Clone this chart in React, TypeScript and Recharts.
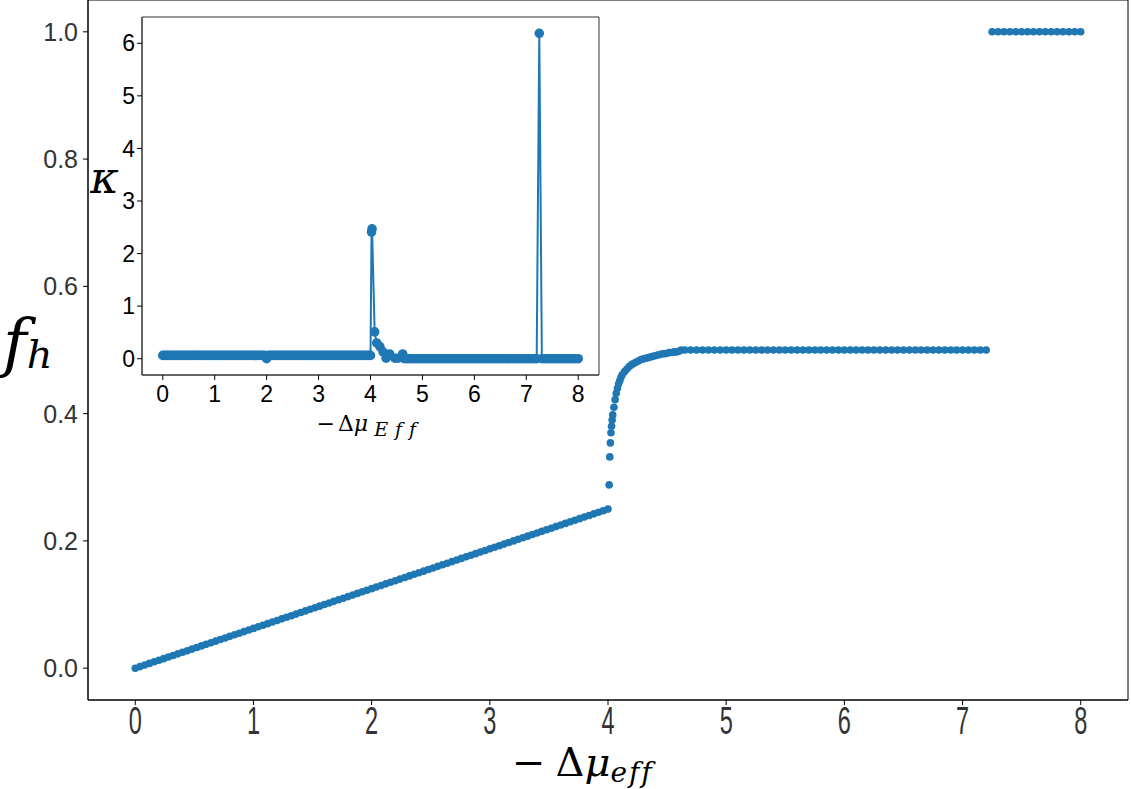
import React from 'react';
import {
  ScatterChart, Scatter, LineChart, Line, XAxis, YAxis, ReferenceArea, Label,
} from 'recharts';

// f_h vs -Δμ_eff
const xLin = [0, 0.04, 0.08, 0.12, 0.16, 0.2, 0.24, 0.28, 0.32, 0.36, 0.4, 0.44, 0.48, 0.52, 0.56, 0.6, 0.64, 0.68, 0.72, 0.76,
  0.8, 0.84, 0.88, 0.92, 0.96, 1, 1.04, 1.08, 1.12, 1.16, 1.2, 1.24, 1.28, 1.32, 1.36, 1.4, 1.44, 1.48, 1.52, 1.56,
  1.6, 1.64, 1.68, 1.72, 1.76, 1.8, 1.84, 1.88, 1.92, 1.96, 2, 2.04, 2.08, 2.12, 2.16, 2.2, 2.24, 2.28, 2.32, 2.36,
  2.4, 2.44, 2.48, 2.52, 2.56, 2.6, 2.64, 2.68, 2.72, 2.76, 2.8, 2.84, 2.88, 2.92, 2.96, 3, 3.04, 3.08, 3.12, 3.16,
  3.2, 3.24, 3.28, 3.32, 3.36, 3.4, 3.44, 3.48, 3.52, 3.56, 3.6, 3.64, 3.68, 3.72, 3.76, 3.8, 3.84, 3.88, 3.92, 3.96, 4];
const fhLin = [0, 0.0025, 0.005, 0.0075, 0.01, 0.0125, 0.015, 0.0175, 0.02, 0.0225, 0.025, 0.0275, 0.03, 0.0325, 0.035,
  0.0375, 0.04, 0.0425, 0.045, 0.0475, 0.05, 0.0525, 0.055, 0.0575, 0.06, 0.0625, 0.065, 0.0675, 0.07, 0.0725,
  0.075, 0.0775, 0.08, 0.0825, 0.085, 0.0875, 0.09, 0.0925, 0.095, 0.0975, 0.1, 0.1025, 0.105, 0.1075, 0.11,
  0.1125, 0.115, 0.1175, 0.12, 0.1225, 0.125, 0.1275, 0.13, 0.1325, 0.135, 0.1375, 0.14, 0.1425, 0.145, 0.1475,
  0.15, 0.1525, 0.155, 0.1575, 0.16, 0.1625, 0.165, 0.1675, 0.17, 0.1725, 0.175, 0.1775, 0.18, 0.1825, 0.185,
  0.1875, 0.19, 0.1925, 0.195, 0.1975, 0.2, 0.2025, 0.205, 0.2075, 0.21, 0.2125, 0.215, 0.2175, 0.22, 0.2225,
  0.225, 0.2275, 0.23, 0.2325, 0.235, 0.2375, 0.24, 0.2425, 0.245, 0.2475, 0.25];

const xRise = [4.01, 4.015, 4.02, 4.025, 4.03, 4.035, 4.04, 4.05, 4.06, 4.07, 4.08, 4.09, 4.1, 4.11, 4.12, 4.14, 4.16,
  4.18, 4.2, 4.22, 4.24, 4.26, 4.28, 4.3, 4.32, 4.34, 4.36, 4.38, 4.4, 4.42, 4.44, 4.46, 4.48, 4.5, 4.52, 4.54, 4.56,
  4.58, 4.6, 4.62];
const fhRise = [0.288, 0.332, 0.354, 0.37, 0.38, 0.39, 0.398, 0.41, 0.422, 0.432, 0.44, 0.447, 0.452, 0.457, 0.461,
  0.466, 0.47, 0.474, 0.477, 0.479, 0.481, 0.483, 0.485, 0.486, 0.487, 0.488, 0.489, 0.49, 0.491, 0.492, 0.493,
  0.494, 0.494, 0.495, 0.496, 0.496, 0.497, 0.497, 0.498, 0.5];

const xPlateau = [4.65, 4.7, 4.75, 4.8, 4.85, 4.9, 4.95, 5, 5.05, 5.1, 5.15, 5.2, 5.25, 5.3, 5.35, 5.4, 5.45, 5.5, 5.55,
  5.6, 5.65, 5.7, 5.75, 5.8, 5.85, 5.9, 5.95, 6, 6.05, 6.1, 6.15, 6.2, 6.25, 6.3, 6.35, 6.4, 6.45, 6.5, 6.55, 6.6,
  6.65, 6.7, 6.75, 6.8, 6.85, 6.9, 6.95, 7, 7.05, 7.1, 7.15, 7.2];
const fhPlateau = [0.5, 0.5, 0.5, 0.5, 0.5, 0.5, 0.5, 0.5, 0.5, 0.5, 0.5, 0.5, 0.5, 0.5, 0.5, 0.5, 0.5, 0.5, 0.5, 0.5,
  0.5, 0.5, 0.5, 0.5, 0.5, 0.5, 0.5, 0.5, 0.5, 0.5, 0.5, 0.5, 0.5, 0.5, 0.5, 0.5, 0.5, 0.5, 0.5, 0.5, 0.5, 0.5,
  0.5, 0.5, 0.5, 0.5, 0.5, 0.5, 0.5, 0.5, 0.5, 0.5];

const xTop = [7.25, 7.3, 7.35, 7.4, 7.45, 7.5, 7.55, 7.6, 7.65, 7.7, 7.75, 7.8, 7.85, 7.9, 7.95, 8];
const fhTop = [1, 1, 1, 1, 1, 1, 1, 1, 1, 1, 1, 1, 1, 1, 1, 1];

// inset: κ vs -Δμ_Eff
const kLin = [0.0625, 0.0625, 0.0625, 0.0625, 0.0625, 0.0625, 0.0625, 0.0625, 0.0625, 0.0625, 0.0625, 0.0625, 0.0625,
  0.0625, 0.0625, 0.0625, 0.0625, 0.0625, 0.0625, 0.0625, 0.0625, 0.0625, 0.0625, 0.0625, 0.0625, 0.0625, 0.0625,
  0.0625, 0.0625, 0.0625, 0.0625, 0.0625, 0.0625, 0.0625, 0.0625, 0.0625, 0.0625, 0.0625, 0.0625, 0.0625, 0.0625,
  0.0625, 0.0625, 0.0625, 0.0625, 0.0625, 0.0625, 0.0625, 0.0625, 0.0625, 0.0, 0.0625, 0.0625, 0.0625, 0.0625,
  0.0625, 0.0625, 0.0625, 0.0625, 0.0625, 0.0625, 0.0625, 0.0625, 0.0625, 0.0625, 0.0625, 0.0625, 0.0625, 0.0625,
  0.0625, 0.0625, 0.0625, 0.0625, 0.0625, 0.0625, 0.0625, 0.0625, 0.0625, 0.0625, 0.0625, 0.0625, 0.0625, 0.0625,
  0.0625, 0.0625, 0.0625, 0.0625, 0.0625, 0.0625, 0.0625, 0.0625, 0.0625, 0.0625, 0.0625, 0.0625, 0.0625, 0.0625,
  0.0625, 0.0625, 0.0625, 0.0625];
const xSpike = [4.02, 4.03, 4.08, 4.12, 4.18, 4.24, 4.3, 4.37, 4.47, 4.53, 4.62];
const kSpike = [2.41, 2.47, 0.51, 0.3, 0.23, 0.13, 0.01, 0.09, 0.01, 0.01, 0.09];
const kPlateau = [0, 0, 0, 0, 0, 0, 0, 0, 0, 0, 0, 0, 0, 0, 0, 0, 0, 0, 0, 0, 0, 0, 0, 0, 0, 0, 0, 0, 0, 0, 0, 0, 0,
  0, 0, 0, 0, 0, 0, 0, 0, 0, 0, 0, 0, 0, 0, 0, 0, 0, 0, 0];
const kTop = [6.19, 0, 0, 0, 0, 0, 0, 0, 0, 0, 0, 0, 0, 0, 0, 0];

const mainTicksX = [0, 1, 2, 3, 4, 5, 6, 7, 8];
const mainTicksY = [0, 0.2, 0.4, 0.6, 0.8, 1.0];
const insetTicksY = [0, 1, 2, 3, 4, 5, 6];

const zip = (xs: number[], ys: number[]) => xs.map((x, i) => ({ x, y: ys[i] }));

const mainData = [
  ...zip(xLin, fhLin), ...zip(xRise, fhRise), ...zip(xPlateau, fhPlateau), ...zip(xTop, fhTop),
];
const insetData = [
  ...zip(xLin, kLin), ...zip(xSpike, kSpike), ...zip(xPlateau, kPlateau), ...zip(xTop, kTop),
];

const BLUE = '#1f77b4';
const SANS = 'Liberation Sans';
const SERIF = 'DejaVu Serif';

const Dot = (p: any) => <circle cx={p.cx} cy={p.cy} r={3.8} fill={BLUE} />;

// the x tick labels in the figure are squeezed horizontally
const MainXTick = (p: any) => (
  <g transform={`translate(${p.x},${p.y})`}>
    <text transform="scale(0.62,1)" textAnchor="middle" dy="0.71em" fontSize={38} fontFamily={SANS} fill="#333">
      {p.payload.value}
    </text>
  </g>
);

const MainXLabel = (p: any) => {
  const vb = p.viewBox;
  return (
    <text x={vb.x + vb.width / 2 - 96} y={vb.y + 76} fontFamily={SERIF} fontSize={40} fill="#000">
      <tspan>−</tspan>
      <tspan dx={10}>Δ</tspan>
      <tspan fontStyle="italic">μ</tspan>
      <tspan fontStyle="italic" fontSize={28} dy={6} letterSpacing={2}>eff</tspan>
    </text>
  );
};

const MainYLabel = (p: any) => {
  const vb = p.viewBox;
  return (
    <text x={vb.x + 3} y={vb.y + vb.height / 2 + 15} fontFamily={SERIF} fill="#000" fontStyle="italic">
      <tspan fontSize={64}>f</tspan>
      <tspan fontSize={40} dy={3}>h</tspan>
    </text>
  );
};

const InsetXLabel = (p: any) => {
  const vb = p.viewBox;
  return (
    <text x={vb.x + vb.width / 2 - 54} y={vb.y + 56} fontFamily={SERIF} fontSize={22} fill="#000">
      <tspan>−</tspan>
      <tspan dx={3}>Δ</tspan>
      <tspan fontStyle="italic">μ</tspan>
      <tspan fontStyle="italic" fontSize={19} dx={6} dy={5} letterSpacing={7}>Eff</tspan>
    </text>
  );
};

const InsetYLabel = (p: any) => {
  const vb = p.viewBox;
  return (
    <text x={vb.x} y={vb.y + 176} fontFamily={SERIF} fontSize={44} fontStyle="italic" fill="#000">κ</text>
  );
};

export default function App() {
  return (
    <div style={{ position: 'absolute', left: 0, top: 0, width: 1131, height: 789, background: '#fff' }}>
      <ScatterChart width={1131} height={789} margin={{ top: 0, right: 3, bottom: 0, left: 0 }}>
        <XAxis
          type="number" dataKey="x" domain={[-0.4, 8.4]} ticks={mainTicksX} allowDataOverflow
          height={89} tickSize={5} tickMargin={2} tick={<MainXTick />}
          stroke="#000" tickLine={{ stroke: '#000' }}
        >
          <Label content={MainXLabel} />
        </XAxis>
        <YAxis
          type="number" dataKey="y" domain={[-0.05, 1.05]} ticks={mainTicksY} allowDataOverflow
          width={88} tickSize={5} tickMargin={5} tickFormatter={(v: number) => v.toFixed(1)}
          tick={{ fontSize: 25, fontFamily: SANS, fill: '#333' }}
          stroke="#000" tickLine={{ stroke: '#000' }}
        >
          <Label content={MainYLabel} />
        </YAxis>
        <ReferenceArea x1={-0.4} x2={8.4} y1={-0.05} y2={1.05} fill="none" stroke="#000" strokeWidth={1} />
        <Scatter data={mainData} shape={Dot} isAnimationActive={false} />
      </ScatterChart>

      <div style={{ position: 'absolute', left: 90, top: 0 }}>
        <LineChart width={520} height={450} data={insetData} margin={{ top: 17, right: 11, bottom: 0, left: 0 }}>
          <ReferenceArea x1={-0.4} x2={8.4} y1={-0.31} y2={6.5} fill="#fff" fillOpacity={1} stroke="#333" strokeWidth={1} />
          <XAxis
            type="number" dataKey="x" domain={[-0.4, 8.4]} ticks={mainTicksX} allowDataOverflow
            height={75} tickSize={5} tickMargin={6}
            tick={{ fontSize: 23, fontFamily: SANS, fill: '#000' }}
            stroke="#333" tickLine={{ stroke: '#000' }}
          >
            <Label content={InsetXLabel} />
          </XAxis>
          <YAxis
            type="number" domain={[-0.31, 6.5]} ticks={insetTicksY} allowDataOverflow
            width={52} tickSize={5} tickMargin={2}
            tick={{ fontSize: 23, fontFamily: SANS, fill: '#000' }}
            stroke="#333" tickLine={{ stroke: '#000' }}
          >
            <Label content={InsetYLabel} />
          </YAxis>
          <Line
            type="linear" dataKey="y" stroke={BLUE} strokeWidth={2}
            dot={{ r: 4.8, fill: BLUE, stroke: BLUE, strokeWidth: 0 }} activeDot={false}
            isAnimationActive={false}
          />
        </LineChart>
      </div>
    </div>
  );
}
